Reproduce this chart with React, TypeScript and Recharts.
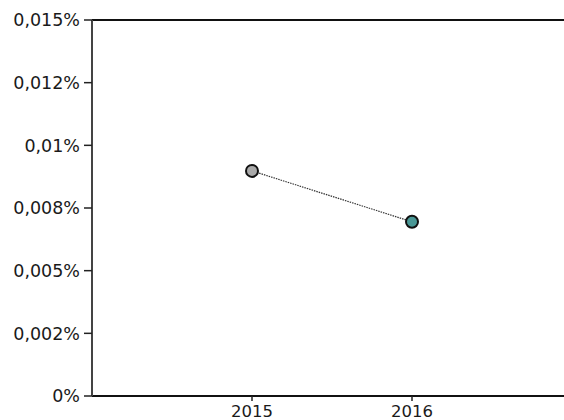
import { LineChart, Line, XAxis, YAxis, ReferenceLine } from 'recharts';

const years = [2015, 2016];
const shares = [0.00898, 0.00695];
const pointFills = ['#aaaaaa', '#4a9896'];

const yTicks = [0, 0.0025, 0.005, 0.0075, 0.01, 0.0125, 0.015];
const yTickLabels = ['0%', '0,002%', '0,005%', '0,008%', '0,01%', '0,012%', '0,015%'];
const xTicks = [2015, 2016];

const data = years.map((year, i) => ({ year, share: shares[i] }));

const fontFamily = '"DejaVu Sans", Verdana, sans-serif';
const xFont = { fontFamily, fontSize: 16.5, fill: '#1a1a1a' };
const yFont = { fontFamily, fontSize: 17.5, fill: '#1a1a1a' };

function YearDot(props: any) {
  const { cx, cy, index } = props;
  if (cx == null || cy == null) return null;
  return <circle cx={cx} cy={cy} r={6} fill={pointFills[index]} stroke="#111" strokeWidth={2} />;
}

export default function App() {
  return (
    <div style={{ position: 'absolute', left: 0, top: 0, width: 564, height: 420, overflow: 'hidden', background: '#fff' }}>
      <LineChart width={580} height={420} data={data} margin={{ top: 20, right: 8, left: 0, bottom: 0 }}>
        <XAxis
          dataKey="year"
          type="number"
          domain={[2014, 2017]}
          ticks={xTicks}
          height={24}
          tickSize={5}
          tickMargin={4}
          axisLine={{ stroke: '#111', strokeWidth: 2 }}
          tickLine={{ stroke: '#222', strokeWidth: 1.5 }}
          tick={xFont}
        />
        <YAxis
          type="number"
          domain={[0, 0.015]}
          ticks={yTicks}
          width={92}
          tickSize={8}
          tickMargin={4}
          axisLine={{ stroke: '#444', strokeWidth: 2 }}
          tickLine={{ stroke: '#222', strokeWidth: 1.5 }}
          tick={yFont}
          tickFormatter={(v: number) => yTickLabels[yTicks.indexOf(v)] ?? ''}
        />
        <ReferenceLine y={0.015} stroke="#111" strokeWidth={2} />
        <Line
          dataKey="share"
          stroke="#333"
          strokeWidth={1.2}
          strokeDasharray="1.5 1"
          dot={<YearDot />}
          activeDot={false}
          isAnimationActive={false}
        />
      </LineChart>
    </div>
  );
}
